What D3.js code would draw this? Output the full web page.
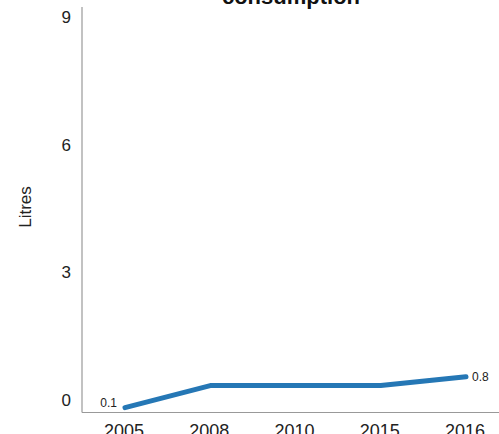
<!DOCTYPE html>
<html>
<head>
<meta charset="utf-8">
<script src="https://cdn.jsdelivr.net/npm/d3@7"></script>
<style>
  html, body { margin: 0; padding: 0; background: #fff; overflow: hidden; }
  text { font-family: "Liberation Sans", Arial, sans-serif; }
</style>
</head>
<body>
<svg id="chart" width="499" height="434"></svg>
<script>
const years = ["2005", "2008", "2010", "2015", "2016"];
const values = [0.1, 0.6, 0.6, 0.6, 0.8];
const yTicks = [0, 3, 6, 9];
const titleText = "consumption";
const yLabel = "Litres";

const svg = d3.select("#chart");
const W = 499, H = 434;

const x = d3.scalePoint().domain(years).range([125, 466]);
const y = d3.scaleLinear().domain([0, 9]).range([412, 16]);
const yLab = d3.scaleLinear().domain([0, 9]).range([400, 17]);

// axes lines
svg.append("line").attr("x1", 82).attr("x2", 82).attr("y1", 7).attr("y2", 412.5)
  .attr("stroke", "#999").attr("stroke-width", 1.2);
svg.append("line").attr("x1", 82).attr("x2", W).attr("y1", 412.5).attr("y2", 412.5)
  .attr("stroke", "#999").attr("stroke-width", 1.2);

// y tick labels
svg.selectAll(".ytick").data(yTicks).enter().append("text")
  .attr("class", "ytick")
  .attr("x", 71).attr("y", d => yLab(d))
  .attr("dy", "0.35em")
  .attr("text-anchor", "end")
  .attr("font-size", 17).attr("fill", "#222")
  .text(d => d);

// x tick labels
svg.selectAll(".xtick").data(years).enter().append("text")
  .attr("class", "xtick")
  .attr("x", d => x(d) - 1).attr("y", 437)
  .attr("text-anchor", "middle")
  .attr("font-size", 18).attr("fill", "#222")
  .text(d => d);

// y label
svg.append("text")
  .attr("transform", "translate(31,207) rotate(-90)")
  .attr("text-anchor", "middle")
  .attr("font-size", 17).attr("fill", "#222")
  .text(yLabel);

// title
svg.append("text")
  .attr("x", 291).attr("y", 4)
  .attr("text-anchor", "middle")
  .attr("font-size", 22).attr("font-weight", "bold").attr("fill", "#111")
  .text(titleText);

// line
const data = years.map((yr, i) => ({ yr, v: values[i] }));
svg.append("path").datum(data)
  .attr("fill", "none").attr("stroke", "#2577b5").attr("stroke-width", 5)
  .attr("stroke-linecap", "round").attr("stroke-linejoin", "round")
  .attr("d", d3.line().x(d => x(d.yr)).y(d => y(d.v)));

// value labels first and last
const first = data[0], last = data[data.length - 1];
svg.append("text")
  .attr("x", x(first.yr) - 8).attr("y", y(first.v) - 5)
  .attr("dy", "0.35em").attr("text-anchor", "end")
  .attr("font-size", 12).attr("fill", "#222")
  .text(first.v);
svg.append("text")
  .attr("x", x(last.yr) + 6).attr("y", y(last.v))
  .attr("dy", "0.35em").attr("text-anchor", "start")
  .attr("font-size", 12).attr("fill", "#222")
  .text(last.v);
</script>
</body>
</html>
